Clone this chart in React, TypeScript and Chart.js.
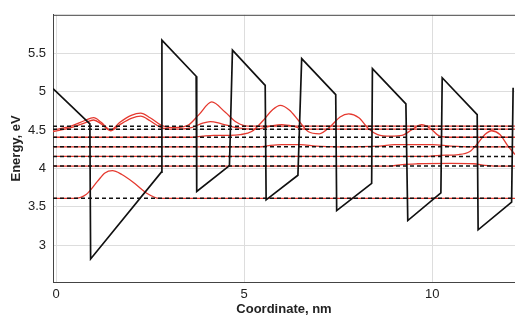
import React, { useEffect, useRef } from "react";
import { Chart, registerables } from "chart.js";

Chart.register(...registerables);

// Potential profile (conduction band edge), x in nm, energy in eV
const potentialX = [-0.08, 0.9, 0.92, 2.8, 2.815, 3.725, 3.74, 4.61, 4.69, 5.56, 5.585, 6.43, 6.53, 7.435, 7.46, 8.39, 8.41, 9.3, 9.35, 10.23, 10.265, 11.195, 11.22, 12.11, 12.15];
const potentialE = [5.04, 4.58, 2.82, 3.95, 5.67, 5.2, 3.7, 4.035, 5.54, 5.08, 3.59, 3.91, 5.43, 4.96, 3.45, 3.805, 5.3, 4.84, 3.32, 3.68, 5.18, 4.7, 3.2, 3.56, 5.05];

// Energy levels (eV)
const levelE = [4.55, 4.51, 4.405, 4.28, 4.155, 4.03, 3.61];

// Wavefunctions drawn at their level energies
const wave1X = [-0.08, 0.4, 0.75, 1.0, 1.2, 1.45, 1.7, 2.0, 2.25, 2.5, 2.8, 3.1, 3.5, 3.8, 4.14, 4.5, 4.8, 5.1, 12.2];
const wave1E = [4.5, 4.55, 4.62, 4.66, 4.6, 4.5, 4.6, 4.69, 4.72, 4.66, 4.56, 4.53, 4.56, 4.7, 4.865, 4.73, 4.6, 4.55, 4.55];

const wave2X = [-0.08, 0.4, 0.75, 1.0, 1.2, 1.45, 1.7, 2.0, 2.25, 2.5, 2.8, 3.1, 3.6, 3.9, 4.1, 4.4, 4.8, 5.3, 5.7, 6.0, 6.3, 6.6, 12.2];
const wave2E = [4.48, 4.53, 4.59, 4.63, 4.58, 4.49, 4.57, 4.65, 4.68, 4.62, 4.53, 4.51, 4.53, 4.59, 4.61, 4.58, 4.53, 4.51, 4.55, 4.57, 4.55, 4.51, 4.51];

const wave3X = [-0.08, 3.6, 3.9, 4.2, 4.6, 4.9, 5.2, 5.5, 5.75, 5.96, 6.2, 6.45, 6.7, 7.0, 7.3, 7.55, 7.78, 8.05, 8.3, 8.55, 8.9, 9.2, 9.45, 9.72, 9.95, 10.2, 10.5, 12.2];
const wave3E = [4.405, 4.405, 4.42, 4.43, 4.43, 4.44, 4.48, 4.62, 4.76, 4.82, 4.76, 4.62, 4.48, 4.45, 4.55, 4.67, 4.71, 4.66, 4.52, 4.44, 4.42, 4.43, 4.5, 4.57, 4.52, 4.42, 4.405, 4.405];

const wave4X = [-0.08, 5.4, 5.7, 6.0, 6.5, 6.9, 7.5, 8.6, 9.0, 10.0, 10.5, 11.0, 12.2];
const wave4E = [4.28, 4.28, 4.3, 4.31, 4.31, 4.29, 4.28, 4.29, 4.31, 4.31, 4.29, 4.28, 4.28];

const wave5X = [-0.08, 9.8, 10.2, 10.7, 11.0, 11.2, 11.4, 11.58, 11.8, 12.0, 12.2];
const wave5E = [4.155, 4.155, 4.17, 4.18, 4.22, 4.32, 4.44, 4.49, 4.44, 4.3, 4.18];

const wave6X = [-0.08, 8.9, 9.2, 9.6, 10.5, 11.1, 11.4, 11.7, 12.2];
const wave6E = [4.03, 4.03, 4.05, 4.06, 4.065, 4.06, 4.04, 4.03, 4.03];

const wave7X = [-0.08, 0.5, 0.8, 1.1, 1.3, 1.5, 1.75, 2.05, 2.4, 2.75, 12.2];
const wave7E = [3.61, 3.61, 3.66, 3.83, 3.94, 3.97, 3.92, 3.82, 3.68, 3.61, 3.61];

const waves = [
  [wave1X, wave1E],
  [wave2X, wave2E],
  [wave3X, wave3E],
  [wave4X, wave4E],
  [wave5X, wave5E],
  [wave6X, wave6E],
  [wave7X, wave7E],
];

const xTicks = [0, 5, 10];
const xTickLabels = ["0", "5", "10"];
const yTicks = [3, 3.5, 4, 4.5, 5, 5.5];
const yTickLabels = ["3", "3.5", "4", "4.5", "5", "5.5"];
const xMin = -0.08;
const xMax = 12.2;
const yMin = 2.52;
const yMax = 6.0;

const RED = "#e5392f";
const BLACK = "#111111";
const FRAME = "#444444";
const FONT = "'Liberation Sans', Arial, sans-serif";

const pts = (xs: number[], ys: number[]) => xs.map((x, i) => ({ x, y: ys[i] }));

const frameTop = {
  id: "frameTop",
  afterDatasetsDraw(chart: any) {
    const { ctx, chartArea } = chart;
    ctx.save();
    ctx.strokeStyle = FRAME;
    ctx.lineWidth = 1;
    ctx.beginPath();
    ctx.moveTo(chartArea.left, chartArea.top + 0.5);
    ctx.lineTo(chartArea.right, chartArea.top + 0.5);
    ctx.stroke();
    ctx.restore();
  },
};

export default function App() {
  const ref = useRef<HTMLCanvasElement | null>(null);

  useEffect(() => {
    document.body.style.margin = "0";
    const canvas = ref.current;
    if (!canvas) return;

    const datasets: any[] = [];
    datasets.push({
      label: "potential",
      data: pts(potentialX, potentialE),
      borderColor: BLACK,
      borderWidth: 1.7,
      showLine: true,
      pointRadius: 0,
      tension: 0,
      order: 0,
    });
    levelE.forEach((e, i) => {
      datasets.push({
        label: "level" + i,
        data: [
          { x: xMin, y: e },
          { x: xMax, y: e },
        ],
        borderColor: BLACK,
        borderWidth: 1.5,
        borderDash: [4, 3],
        showLine: true,
        pointRadius: 0,
        order: 1,
      });
    });
    waves.forEach(([xs, es], i) => {
      datasets.push({
        label: "wave" + i,
        data: pts(xs, es),
        borderColor: RED,
        borderWidth: 1.3,
        showLine: true,
        pointRadius: 0,
        cubicInterpolationMode: "monotone",
        order: 2,
      });
    });

    const chart = new Chart(canvas, {
      type: "scatter",
      data: { datasets },
      options: {
        animation: false,
        responsive: false,
        devicePixelRatio: 1,
        layout: { padding: { top: 6, right: 0, left: 0, bottom: 0 } },
        plugins: { legend: { display: false }, tooltip: { enabled: false } },
        scales: {
          x: {
            type: "linear",
            min: xMin,
            max: xMax,
            afterBuildTicks: (s: any) => {
              s.ticks = xTicks.map((v) => ({ value: v }));
            },
            afterFit: (s: any) => {
              s.height = 39;
            },
            grid: { color: "#dddddd", lineWidth: 1, drawTicks: false },
            border: { display: true, color: FRAME, width: 1 },
            ticks: {
              padding: 5,
              color: "#222",
              font: { family: FONT, size: 13 },
              callback: (v: any) => {
                const i = xTicks.indexOf(Number(v));
                return i >= 0 ? xTickLabels[i] : "";
              },
            },
            title: {
              display: true,
              text: "Coordinate, nm",
              color: "#222",
              font: { family: FONT, size: 13, weight: "bold" },
              padding: { top: 0, bottom: 4 },
            },
          },
          y: {
            type: "linear",
            min: yMin,
            max: yMax,
            afterBuildTicks: (s: any) => {
              s.ticks = yTicks.map((v) => ({ value: v }));
            },
            afterFit: (s: any) => {
              s.width = 53;
            },
            grid: { color: "#dddddd", lineWidth: 1, drawTicks: false },
            border: { display: true, color: FRAME, width: 1 },
            ticks: {
              padding: 7,
              color: "#222",
              font: { family: FONT, size: 13 },
              callback: (v: any) => {
                const i = yTicks.indexOf(Number(v));
                return i >= 0 ? yTickLabels[i] : "";
              },
            },
            title: {
              display: true,
              text: "Energy, eV",
              color: "#222",
              font: { family: FONT, size: 13, weight: "bold" },
              padding: { top: 9, bottom: 0 },
            },
          },
        },
      },
      plugins: [frameTop],
    });

    return () => chart.destroy();
  }, []);

  return (
    <div style={{ position: "absolute", left: 0, top: 0, width: 515, height: 321, background: "#fff" }}>
      <canvas ref={ref} width={515} height={321} style={{ width: 515, height: 321, display: "block" }} />
    </div>
  );
}
